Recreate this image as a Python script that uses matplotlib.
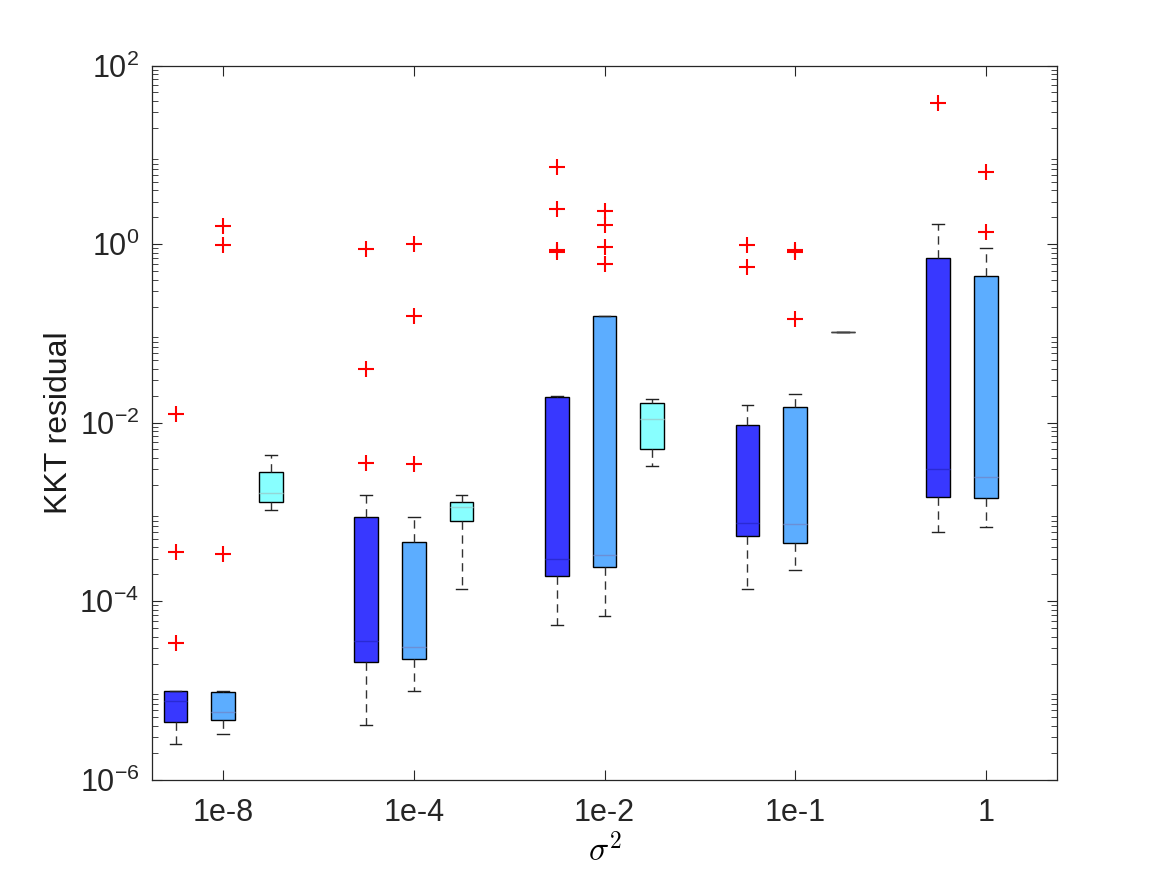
import numpy as np
import matplotlib
matplotlib.use("Agg")
import matplotlib.pyplot as plt

plt.rcParams['font.family'] = ['Liberation Sans', 'DejaVu Sans']
plt.rcParams['mathtext.fontset'] = 'custom'
plt.rcParams['mathtext.rm'] = 'Liberation Sans'
plt.rcParams['mathtext.it'] = 'Liberation Sans:italic'

#------DATA-------#
groups = ['1e-8', '1e-4', '1e-2', '1e-1', '1']

# one entry per box, in plotting order (solver 1, solver 2, solver 3 per group)
box_group = [0, 0, 0, 1, 1, 1, 2, 2, 2, 3, 3, 3, 4, 4]
box_kind = [0, 1, 2, 0, 1, 2, 0, 1, 2, 0, 1, 2, 0, 1]

q1 = [4.43e-6, 4.67e-6, 1.29e-3,
      2.08e-5, 2.25e-5, 7.84e-4,
      1.90e-4, 2.39e-4, 5.11e-3,
      5.42e-4, 4.44e-4, 0.103,
      1.48e-3, 1.44e-3]
med = [7.6e-6, 5.74e-6, 1.64e-3,
       3.58e-5, 3.03e-5, 1.14e-3,
       2.97e-4, 3.29e-4, 1.09e-2,
       7.44e-4, 7.38e-4, 0.103,
       3.0e-3, 2.48e-3]
q3 = [9.9e-6, 9.5e-6, 2.82e-3,
      8.69e-4, 4.60e-4, 1.30e-3,
      1.92e-2, 0.158, 1.66e-2,
      9.5e-3, 1.50e-2, 0.103,
      0.70, 0.44]
whislo = [2.49e-6, 3.27e-6, 1.05e-3,
          4.13e-6, 9.9e-6, 1.35e-4,
          5.36e-5, 6.88e-5, 3.30e-3,
          1.36e-4, 2.24e-4, 0.103,
          5.90e-4, 6.71e-4]
whishi = [9.9e-6, 9.93e-6, 4.30e-3,
          1.56e-3, 8.78e-4, 1.53e-3,
          2.01e-2, 0.158, 1.84e-2,
          1.56e-2, 2.08e-2, 0.103,
          1.70, 0.91]
fliers = [[1.25e-2, 3.52e-4, 3.40e-5], [1.61, 0.98, 3.38e-4], [],
          [0.89, 4.03e-2, 3.53e-3], [1.0, 0.158, 3.44e-3], [],
          [7.25, 2.50, 0.87, 0.82], [2.33, 1.62, 0.93, 0.594], [],
          [0.98, 0.556], [0.87, 0.82, 0.146], [],
          [38.2], [6.44, 1.35]]

face_colors = ['#3838ff', '#5cadff', '#88ffff']
median_colors = ['#2a2ad4', '#6b8fd6', '#94d6d6']

#------PLOT-------#
fig = plt.figure(figsize=(11.67, 8.75), dpi=100)
ax = fig.add_axes([0.13, 0.109, 0.776, 0.816])

# 3 boxes per group, one empty slot between groups
positions = [4 * g + k + 1 for g, k in zip(box_group, box_kind)]

stats = []
for i in range(len(q1)):
    stats.append(dict(q1=q1[i], med=med[i], q3=q3[i], whislo=whislo[i],
                      whishi=whishi[i], fliers=fliers[i]))

bp = ax.bxp(stats, positions=positions, widths=0.5, capwidths=0.25,
            patch_artist=True, showfliers=True,
            whiskerprops=dict(color='#333333', ls=(0, (6, 4)), lw=1.0),
            capprops=dict(color='#222222', lw=1.0),
            flierprops=dict(marker='+', markeredgecolor='red', markersize=12,
                            markeredgewidth=1.5, ls='none'))

for i, patch in enumerate(bp['boxes']):
    patch.set_facecolor(face_colors[box_kind[i]])
    patch.set_edgecolor('black')
    patch.set_linewidth(1.0)
for i, line in enumerate(bp['medians']):
    line.set_color(median_colors[box_kind[i]])
    line.set_linewidth(1.0)
# the degenerate box just shows as a gray line
bp['medians'][11].set_color('#444444')

ax.set_yscale('log')
ax.set_ylim(1e-6, 1e2)
ax.set_xlim(0.5, 19.5)
ax.set_xticks([4 * g + 2 for g in range(len(groups))])
ax.set_xticklabels(groups)
ax.set_yticks([1e-6, 1e-4, 1e-2, 1e0, 1e2])

ax.tick_params(which='both', direction='in', top=True, right=True,
               colors='#262626', labelsize=22)
ax.tick_params(which='major', length=7, width=0.8)
ax.tick_params(which='minor', length=4, width=0.6)
ax.tick_params(axis='x', pad=13)
ax.tick_params(axis='y', pad=9)
for s in ax.spines.values():
    s.set_color('#262626')
    s.set_linewidth(0.9)

ax.set_ylabel("KKT residual", fontsize=23, color='#1a1a1a', labelpad=4)
ax.set_xlabel(r"$\sigma^2$", fontsize=24, math_fontfamily='cm', labelpad=4)

fig.savefig('out.png', dpi=100)
